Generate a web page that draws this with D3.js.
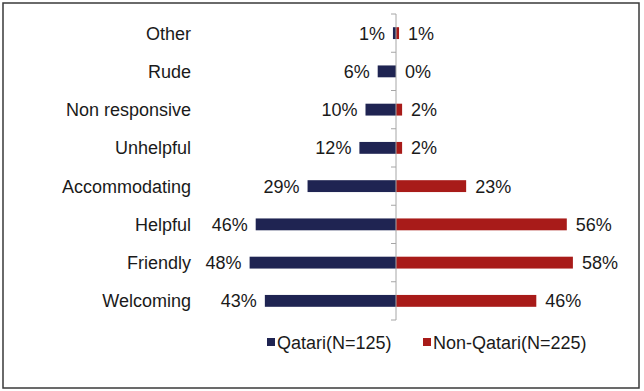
<!DOCTYPE html>
<html><head><meta charset="utf-8">
<script src="https://cdn.jsdelivr.net/npm/d3@7"></script>
<style>body{margin:0;background:#fff}svg{display:block}text{font-family:"Liberation Sans",Arial,sans-serif;fill:#1a1a1a}</style>
</head><body>
<svg id="chart" width="644" height="391"></svg>
<script>
const categories = ["Other","Rude","Non responsive","Unhelpful","Accommodating","Helpful","Friendly","Welcoming"];
const qatari = [1,6,10,12,29,46,48,43];
const nonQatari = [1,0,2,2,23,56,58,46];
const seriesNames = ["Qatari(N=125)","Non-Qatari(N=225)"];
const colors = ["#1f2452","#a81b19"];

const svg = d3.select("#chart");
svg.append("rect").attr("x",3).attr("y",3).attr("width",636).attr("height",385)
  .attr("fill","#fff").attr("stroke","#3a3a3a").attr("stroke-width",1.5);

const cx = 396;
const x = d3.scaleLinear().domain([-60,60]).range([cx-183, cx+183]);
const y = d3.scaleBand().domain(categories).range([14,320]).paddingInner(0.69).paddingOuter(0.345);
const bh = y.bandwidth();

const data = categories.map((c,i)=>({c, q:qatari[i], n:nonQatari[i]}));

// bars
svg.append("g").selectAll("rect").data(data).join("rect")
  .attr("x", d=>x(-d.q)).attr("y", d=>y(d.c)).attr("width", d=>x(0)-x(-d.q)).attr("height", bh)
  .attr("fill", colors[0]);
svg.append("g").selectAll("rect").data(data).join("rect")
  .attr("x", x(0)).attr("y", d=>y(d.c)).attr("width", d=>x(d.n)-x(0)).attr("height", bh)
  .attr("fill", colors[1]);

// axis
const axisY = d3.scaleBand().domain(categories).range([14,320]);
const ag = svg.append("g").attr("transform",`translate(${x(0)},0)`);
ag.append("line").attr("y1",14).attr("y2",320).attr("stroke","#a6a6a6").attr("stroke-width",1);
const tickPos = categories.map(c=>axisY(c)).concat([320]);
ag.selectAll("line.t").data(tickPos).join("line").attr("class","t")
  .attr("x1",-5).attr("x2",0).attr("y1",d=>d).attr("y2",d=>d).attr("stroke","#a6a6a6");

// category labels
svg.append("g").selectAll("text").data(data).join("text")
  .attr("x",191).attr("y", d=>y(d.c)+bh/2).attr("dy","0.36em")
  .attr("text-anchor","end").attr("font-size",18).text(d=>d.c);

// value labels
svg.append("g").selectAll("text").data(data).join("text")
  .attr("x", d=>x(-d.q)-8).attr("y", d=>y(d.c)+bh/2).attr("dy","0.36em")
  .attr("text-anchor","end").attr("font-size",18).text(d=>d.q+"%");
svg.append("g").selectAll("text").data(data).join("text")
  .attr("x", d=>x(d.n)+9).attr("y", d=>y(d.c)+bh/2).attr("dy","0.36em")
  .attr("text-anchor","start").attr("font-size",18).text(d=>d.n+"%");

// legend
const legX = [267, 423];
const lg = svg.append("g");
seriesNames.forEach((s,i)=>{
  lg.append("rect").attr("x",legX[i]).attr("y",338).attr("width",8).attr("height",8).attr("fill",colors[i]);
  lg.append("text").attr("x",legX[i]+10).attr("y",349).attr("font-size",18).text(s);
});
</script>
</body></html>
